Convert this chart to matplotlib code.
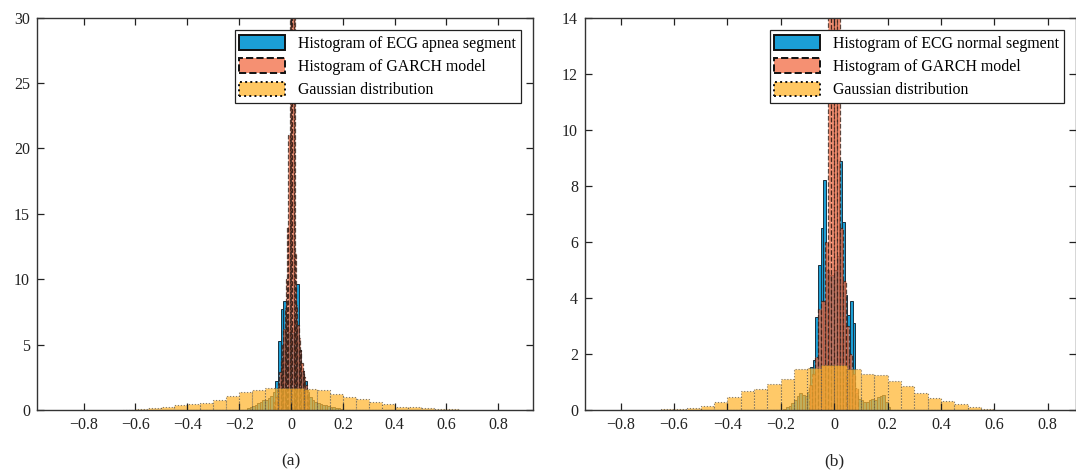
import numpy as np
import matplotlib
matplotlib.use("Agg")
import matplotlib.pyplot as plt
from matplotlib.ticker import FuncFormatter

plt.rcParams['font.family'] = ['Liberation Serif', 'DejaVu Serif']

# ---- panel (a): apnea segment ----
ecg_a_start, ecg_a_width = -0.17, 0.01
ecg_a = [0.15, 0.25, 0.3, 0.4, 0.55, 0.6, 0.75, 0.8, 0.95, 1.1,
         1.4, 2.2, 5.3, 7.7, 8.3, 7.0, 6.0, 6.0, 7.0, 9.6,
         4.6, 3.0, 2.2, 1.4, 1.0, 0.8, 0.65, 0.55, 0.45, 0.4,
         0.35, 0.3, 0.25, 0.2, 0.15, 0.12, 0.1]
garch_a_start, garch_a_width = -0.065, 0.005
garch_a = [0.6, 1.0, 1.5, 2.1, 2.9, 3.8, 5.0, 6.2, 7.8, 10,
           14, 21, 31, 45, 40, 31, 12, 8.0, 6.5, 5.5,
           4.6, 3.6, 3.0, 2.5, 1.9, 1.5, 1.0]
gauss_a_start, gauss_a_width = -0.65, 0.05
gauss_a = [0.03, 0.1, 0.15, 0.23, 0.36, 0.46, 0.56, 0.79, 1.07, 1.35,
           1.5, 1.66, 1.7, 1.7, 1.6, 1.53, 1.25, 1.0, 0.82, 0.64,
           0.48, 0.26, 0.23, 0.13, 0.08, 0.05]

# ---- panel (b): normal segment ----
ecg_b_start, ecg_b_width = -0.19, 0.01
ecg_b = [0.05, 0.1, 0.15, 0.25, 0.35, 0.5, 0.6, 0.55, 0.5, 0.65,
         1.54, 1.78, 3.3, 5.17, 6.5, 8.2, 5.0, 4.8, 4.8, 5.0,
         5.5, 8.9, 6.7, 4.1, 3.4, 3.9, 3.1, 0.6, 0.4, 0.35,
         0.3, 0.3, 0.35, 0.4, 0.35, 0.45, 0.5, 0.55, 0.3, 0.1]
garch_b_start, garch_b_width = -0.0935, 0.0115
garch_b = [0.9, 1.3, 1.9, 3.6, 3.9, 6.0, 16, 22, 21, 17,
           6.5, 4.6, 3.0, 2.0, 1.3, 0.8]
gauss_b_start, gauss_b_width = -0.65, 0.05
gauss_b = [0.02, 0.04, 0.07, 0.15, 0.27, 0.47, 0.69, 0.75, 0.93, 1.1,
           1.45, 1.5, 1.6, 1.6, 1.45, 1.28, 1.25, 1.04, 0.87, 0.62,
           0.44, 0.32, 0.2, 0.12, 0.04]

x_ticks = [-0.8, -0.6, -0.4, -0.2, 0, 0.2, 0.4, 0.6, 0.8]


def tick_fmt(v, pos):
    return ('%g' % round(v, 2)).replace('-', '\u2212')


def bins(start, width, values):
    left = start + width * np.arange(len(values))
    return left, width


def draw_panel(ax, ecg, garch, gauss, ecg_label, xlim, ymax, ystep):
    left, w = bins(*ecg)
    ax.bar(left, ecg[2], width=w, align='edge', color='#1b9fd6',
           edgecolor='#1c3240', linewidth=0.7, label=ecg_label)
    left, w = bins(*garch)
    ax.bar(left, garch[2], width=w, align='edge', color='#f26b43', alpha=0.75,
           edgecolor='#2a1a14', linewidth=0.9, linestyle='--',
           label='Histogram of GARCH model')
    left, w = bins(*gauss)
    ax.bar(left, gauss[2], width=w, align='edge', color='#ffb52e', alpha=0.72,
           edgecolor='#555555', linewidth=0.8, linestyle=':',
           label='Gaussian distribution')

    ax.set_xlim(*xlim)
    ax.set_ylim(0, ymax)
    ax.set_xticks(x_ticks)
    ax.set_yticks(np.arange(0, ymax + 0.1, ystep))
    ax.xaxis.set_major_formatter(FuncFormatter(tick_fmt))
    ax.yaxis.set_major_formatter(FuncFormatter(tick_fmt))
    ax.tick_params(direction='in', top=True, right=True, length=5,
                   width=0.9, labelsize=11.5, colors='#222222', pad=5)
    for s in ax.spines.values():
        s.set_color('#333333')
        s.set_linewidth(1.0)

    leg = ax.legend(loc='upper right', bbox_to_anchor=(0.975, 0.968),
                    borderaxespad=0, fancybox=False, framealpha=1,
                    edgecolor='#222222', fontsize=11.4, handlelength=2.9,
                    handleheight=1.05, labelspacing=0.42, handletextpad=0.8,
                    borderpad=0.3)
    leg.get_frame().set_linewidth(0.9)
    for h in leg.legend_handles:
        h.set_edgecolor('#111111')
        h.set_alpha(1)
        h.set_linewidth(1.4)
    leg.legend_handles[1].set_facecolor('#f59072')
    leg.legend_handles[2].set_facecolor('#ffc762')


fig = plt.figure(figsize=(10.76, 4.74), dpi=100)
ax1 = fig.add_axes([0.0344, 0.135, 0.461, 0.828])
ax2 = fig.add_axes([0.5437, 0.135, 0.4563, 0.828])

draw_panel(ax1, (ecg_a_start, ecg_a_width, ecg_a),
           (garch_a_start, garch_a_width, garch_a),
           (gauss_a_start, gauss_a_width, gauss_a),
           'Histogram of ECG apnea segment', (-0.98, 0.934), 30, 5)
draw_panel(ax2, (ecg_b_start, ecg_b_width, ecg_b),
           (garch_b_start, garch_b_width, garch_b),
           (gauss_b_start, gauss_b_width, gauss_b),
           'Histogram of ECG normal segment', (-0.933, 0.906), 14, 2)

fig.text(0.2704, 0.019, '(a)', ha='center', fontsize=12.5, color='#222222')
fig.text(0.775, 0.019, '(b)', ha='center', fontsize=12.5, color='#222222')

plt.savefig('out.png', dpi=100)
